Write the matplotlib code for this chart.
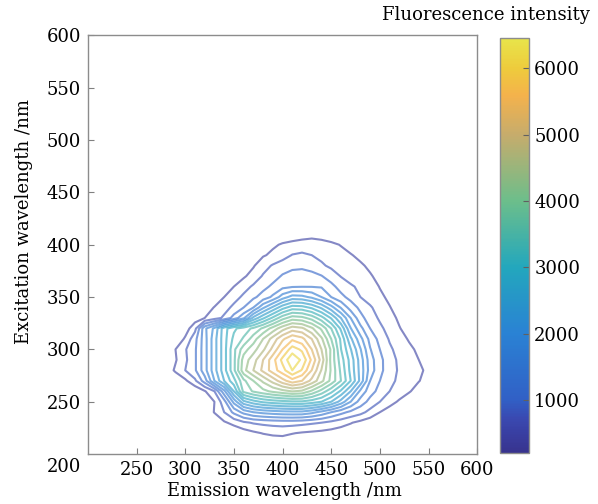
import numpy as np
import matplotlib.pyplot as plt
from matplotlib.colors import LinearSegmentedColormap, Normalize
from matplotlib.cm import ScalarMappable

plt.rcParams['font.family'] = ['DejaVu Serif']

# sampling grid (nm)
em = np.arange(280, 570, 10)   # emission
ex = np.arange(210, 420, 10)   # excitation

# fluorescence intensity, one row per excitation wavelength
intensity = np.array([
    [200]*10 + [260, 290, 290, 275, 260, 245, 230] + [200]*12,                       # 210
    [200]*7 + [260, 350, 440, 515, 560, 581, 515, 470, 440, 410, 380, 335, 290, 245] + [200]*8,  # 220
    [200]*5 + [290, 455, 590, 740, 830, 875, 905, 920, 920, 890, 845, 800, 710, 620, 521, 410, 320, 245] + [200]*6,  # 230
    [200]*4 + [290, 515, 800, 1175, 1499, 1700, 1790, 1850, 1895, 1910, 1910, 1790, 1601, 1400, 1199,
               1025, 899, 701, 500, 350, 245] + [200]*4,                                # 240
    [200]*4 + [260, 500, 980, 1799, 2510, 2780, 2960, 3050, 3110, 3155, 3155, 3050, 2900, 2600, 2180,
               1700, 1265, 1001, 800, 620, 455, 320, 230] + [200]*2,                    # 250
    [200]*3 + [260, 470, 800, 1601, 2600, 3581, 3836, 4010, 4166, 4295, 4415, 4340, 4040, 3680, 3290,
               2840, 2300, 1625, 1220, 1001, 800, 665, 527, 380, 275, 200],            # 260
    [200, 260, 440, 740, 1250, 2000, 2600, 3101, 3725, 4100, 4466, 4814, 5189, 5480, 5300, 4910, 4490,
     4010, 3500, 2900, 2210, 1400, 1100, 887, 734, 623, 512, 395, 290],                # 270
    [290, 551, 800, 1049, 1580, 2180, 2780, 3425, 4301, 4700, 5075, 5450, 5780, 6200, 5870, 5294, 4679,
     4055, 3434, 2810, 2186, 1562, 1181, 938, 758, 656, 551, 440, 320],                # 280
    [230, 470, 740, 1049, 1580, 2180, 2780, 3425, 4232, 4568, 5000, 5480, 5990, 6440, 6140, 5540, 4880,
     4004, 3344, 2777, 2156, 1535, 1181, 926, 740, 620, 500, 380, 275],                # 290
    [230, 500, 770, 1049, 1580, 2180, 2780, 3425, 3965, 4280, 4640, 5090, 5600, 6050, 5840, 5300, 4700,
     4040, 3209, 2621, 2024, 1421, 1100, 851, 695, 566, 440, 335, 245],                # 300
    [200, 260, 545, 1001, 1580, 2180, 2780, 3281, 3539, 3950, 4400, 4820, 5240, 5540, 5390, 5000, 4460,
     3800, 3140, 2363, 1799, 1301, 1001, 770, 620, 470, 350, 260, 200],                # 310
    [200, 230, 350, 701, 1625, 2075, 2780, 3140, 3350, 3560, 3860, 4220, 4580, 4850, 4760, 4460, 4040,
     3500, 2840, 2018, 1493, 1100, 869, 683, 515, 395, 290, 215, 200],                 # 320
    [200, 200, 230, 350, 500, 665, 860, 1220, 1640, 2390, 2840, 3260, 3680, 3950, 3890, 3680, 3320,
     2870, 2300, 1700, 1199, 950, 752, 590, 455, 335, 245, 200, 200],                  # 330
    [200, 200, 200, 230, 350, 515, 680, 875, 1100, 1400, 1940, 2360, 2780, 3050, 3020, 2840, 2540,
     2120, 1670, 1265, 1025, 836, 674, 515, 380, 275, 200, 200, 200],                  # 340
    [200]*4 + [230, 320, 500, 680, 860, 1040, 1220, 1460, 1850, 2120, 2090, 1940, 1700, 1400, 1184,
               1001, 800, 680, 560, 440, 335, 245] + [200]*3,                           # 350
    [200]*5 + [245, 350, 500, 680, 845, 1010, 1160, 1310, 1370, 1385, 1385, 1370, 1190, 980, 830,
               755, 635, 485, 365, 260] + [200]*4,                                      # 360
    [200]*6 + [260, 350, 455, 620, 830, 980, 1130, 1205, 1220, 1190, 1115, 950, 785, 710, 635,
               530, 410, 305, 230] + [200]*4,                                           # 370
    [200]*7 + [260, 350, 470, 680, 830, 950, 1025, 1040, 980, 845, 740, 680, 620, 545, 440,
               320, 245] + [200]*5,                                                     # 380
    [200]*8 + [260, 350, 470, 560, 665, 815, 860, 800, 725, 650, 590, 521, 425, 320, 245] + [200]*6,  # 390
    [200]*9 + [260, 350, 455, 530, 575, 614, 629, 605, 560, 485, 380, 290, 230] + [200]*7,  # 400
    [200]*12 + [320, 350, 380, 410, 380, 320, 260] + [200]*10,                        # 410
], dtype=float)

levels = np.arange(500, 6300, 300)
cbar_ticks = [1000, 2000, 3000, 4000, 5000, 6000]
axis_ticks = [250, 300, 350, 400, 450, 500, 550, 600]
vmin, vmax = 200, 6450

# parula-like colormap, toned to the printed colour bar
stops = [(200, '#38338e'), (700, '#3a48b0'), (1000, '#3160c6'), (2000, '#2a82d4'),
         (3000, '#23a7bd'), (4000, '#6cbe8b'), (5000, '#c6ac6c'), (5600, '#f4b24c'),
         (6000, '#eecb3c'), (6450, '#e8e44a')]
parula = LinearSegmentedColormap.from_list(
    'parula', [((v - vmin) / (vmax - vmin), c) for v, c in stops])
norm = Normalize(vmin, vmax)

fig = plt.figure(figsize=(5.98, 5.04), dpi=100)
ax = fig.add_axes([0.147, 0.099, 0.651, 0.831])
cax = fig.add_axes([0.836, 0.101, 0.048, 0.823])

ax.contour(em, ex, intensity, levels=levels, cmap=parula, norm=norm,
           linewidths=1.5, alpha=0.62)

ax.set_xlim(200, 600)
ax.set_ylim(200, 600)
ax.set_xticks(axis_ticks)
ax.set_yticks(axis_ticks)
ax.tick_params(direction='in', length=4, color='#808080', labelsize=13, pad=5)
for s in ax.spines.values():
    s.set_color('#8c8c8c')
    s.set_linewidth(1.0)

fig.text(81 / 598, 1 - 467 / 504, '200', ha='right', va='center', fontsize=13)
fig.text(284 / 598, 1 - 491 / 504, 'Emission wavelength /nm', ha='center', va='center', fontsize=13)
fig.text(24 / 598, 1 - 222 / 504, 'Excitation wavelength /nm', ha='center', va='center',
         rotation=90, fontsize=13)

cb = fig.colorbar(ScalarMappable(norm=norm, cmap=parula), cax=cax)
cb.set_ticks(cbar_ticks)
cb.ax.tick_params(direction='in', length=4, color='#606060', labelsize=13, pad=4)
cb.outline.set_edgecolor('#8c8c8c')
cb.outline.set_linewidth(1.0)
fig.text(590 / 598, 1 - 15 / 504, 'Fluorescence intensity', ha='right', va='center', fontsize=13)

plt.savefig('out.png', dpi=100)
